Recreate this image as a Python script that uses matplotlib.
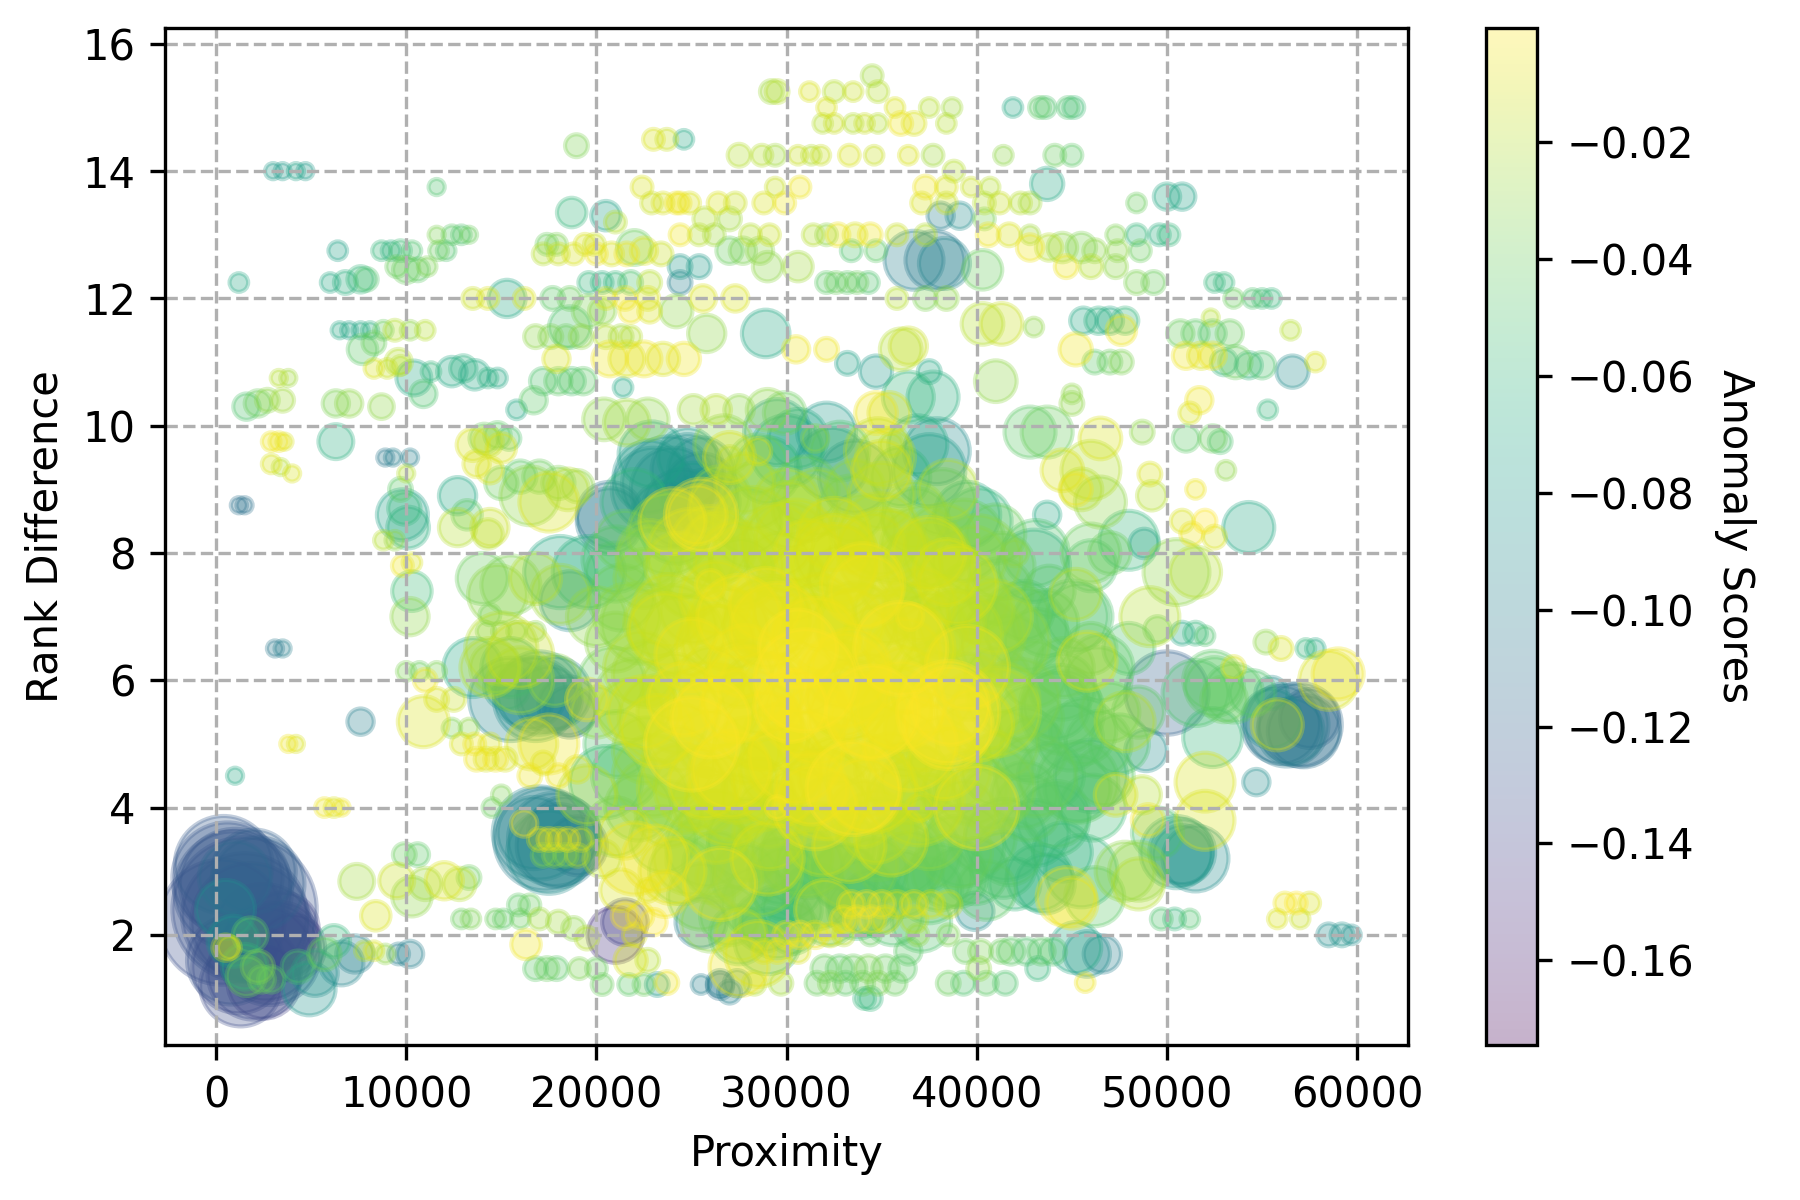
import numpy as np
import matplotlib
matplotlib.use("Agg")
import matplotlib.pyplot as plt

# ------------------------------------------------
# Data (approximate)
# ------------------------------------------------

# big dark cluster near the origin
lowleft_prox = [400, 1500, 900, 300, 2200, 3400, 2800, 1300, 2500, 800,
                4000, 1000, 500, 900, 1500, 4900, 5200, 1800, 1600, 2200,
                4300, 500, 700, 2400, 2900, 6600, 7300, 6200, 7800, 8300,
                8900, 9600, 10200, 5700]
lowleft_rank = [3.1, 2.4, 2.7, 2.2, 2.8, 1.9, 1.7, 1.2, 1.25, 1.6,
                1.8, 2.9, 2.4, 1.9, 1.5, 1.15, 1.4, 2.0, 1.35, 1.5,
                1.5, 1.8, 1.8, 1.3, 1.3, 1.55, 1.7, 1.9, 1.75, 1.75,
                1.7, 1.7, 1.7, 1.7]
lowleft_size = [550, 1200, 800, 900, 500, 350, 600, 380, 300, 450,
                250, 300, 200, 150, 120, 160, 120, 70, 90, 60,
                60, 40, 30, 40, 40, 110, 80, 60, 20, 20,
                20, 25, 40, 60]
lowleft_score = [-0.125, -0.130, -0.128, -0.132, -0.122, -0.138, -0.132, -0.135, -0.140, -0.130,
                 -0.142, -0.115, -0.090, -0.085, -0.070, -0.085, -0.090, -0.045, -0.040, -0.035,
                 -0.050, -0.012, -0.010, -0.040, -0.045, -0.095, -0.100, -0.060, -0.020, -0.010,
                 -0.030, -0.100, -0.100, -0.040]

# scattered points on the left side
left_prox = [1000, 3100, 3500, 3800, 4200, 5700, 6200, 6600, 7600, 1200,
             1500, 3000, 3500, 4200, 4700, 1200, 6400, 6000, 6800, 7600,
             7900, 8700, 9200, 9700, 10300, 9500, 10000, 10600, 11100, 11600,
             11600, 12400, 12900, 13300, 11700, 12100, 6500, 7000, 7600, 8100,
             8800, 9400, 10200, 11000, 7700, 8300, 9600, 8300, 9000, 9700,
             10400, 10900, 11300, 12400, 13000, 13600, 14300, 14800, 3300, 3800,
             1600, 2200, 2700, 3500, 6300, 7000, 8700, 2900, 3300, 3600,
             2900, 3400, 4000, 6300, 8900, 9300, 10200, 10000, 9800, 10100,
             9900, 12700, 13200, 14300, 9800, 10300, 10300, 10200, 9700, 9400,
             13500, 14300, 14800, 15400, 13700, 14400, 15800, 16700]
left_rank = [4.5, 6.5, 6.5, 5.0, 5.0, 4.0, 4.0, 4.0, 5.35, 8.75,
             8.75, 14.0, 14.0, 14.0, 14.0, 12.25, 12.75, 12.25, 12.25, 12.3,
             12.3, 12.75, 12.75, 12.75, 12.75, 12.5, 12.45, 12.45, 12.5, 13.75,
             13.0, 13.0, 13.0, 13.0, 12.75, 12.75, 11.5, 11.5, 11.5, 11.5,
             11.5, 11.5, 11.5, 11.5, 11.2, 11.3, 11.0, 10.9, 10.9, 10.95,
             10.75, 10.5, 10.85, 10.85, 10.9, 10.8, 10.75, 10.75, 10.75, 10.75,
             10.3, 10.35, 10.4, 10.4, 10.35, 10.35, 10.3, 9.75, 9.75, 9.75,
             9.4, 9.35, 9.25, 9.75, 9.5, 9.5, 9.5, 9.25, 8.6, 8.4,
             8.7, 8.9, 8.6, 8.3, 7.8, 7.85, 7.4, 7.0, 9.0, 8.2,
             9.7, 9.75, 9.85, 9.8, 9.4, 9.3, 10.25, 10.4]
left_size = [15, 15, 15, 15, 15, 20, 20, 15, 40, 15,
             15, 15, 15, 15, 15, 20, 20, 20, 30, 40,
             30, 20, 20, 25, 20, 25, 40, 30, 20, 15,
             15, 20, 20, 15, 20, 20, 15, 15, 15, 15,
             20, 25, 20, 20, 50, 30, 40, 20, 20, 20,
             70, 40, 20, 50, 40, 50, 20, 20, 15, 15,
             40, 40, 30, 30, 40, 40, 35, 20, 20, 15,
             20, 15, 15, 70, 15, 15, 15, 15, 150, 100,
             60, 80, 50, 50, 25, 20, 90, 80, 30, 20,
             60, 50, 40, 30, 40, 40, 20, 40]
left_score = [-0.07, -0.105, -0.10, -0.005, -0.01, -0.005, -0.01, -0.005, -0.10, -0.11,
              -0.11, -0.08, -0.08, -0.075, -0.08, -0.07, -0.075, -0.07, -0.065, -0.06,
              -0.05, -0.06, -0.065, -0.055, -0.05, -0.04, -0.04, -0.045, -0.035, -0.05,
              -0.035, -0.045, -0.05, -0.04, -0.04, -0.05, -0.07, -0.075, -0.07, -0.065,
              -0.04, -0.02, -0.03, -0.02, -0.045, -0.04, -0.02, -0.01, -0.015, -0.02,
              -0.07, -0.05, -0.06, -0.07, -0.065, -0.07, -0.065, -0.07, -0.02, -0.025,
              -0.05, -0.04, -0.03, -0.025, -0.035, -0.03, -0.03, -0.005, -0.005, -0.01,
              -0.01, -0.02, -0.01, -0.065, -0.105, -0.10, -0.10, -0.02, -0.075, -0.065,
              -0.06, -0.07, -0.045, -0.02, -0.005, -0.01, -0.055, -0.03, -0.045, -0.03,
              -0.01, -0.02, -0.045, -0.05, -0.01, -0.01, -0.07, -0.045]

# upper band, 13000 - 25000
upleft_prox = [18950, 23000, 23700, 24600, 22400, 22900, 23500, 24200, 18700, 20500,
               21000, 17400, 17900, 19400, 19900, 22000, 17200, 18000, 18800, 20000,
               20800, 21600, 22500, 23400, 19600, 20300, 21000, 21800, 22800, 24400,
               13500, 14300, 15300, 16200, 17700, 18600, 20500, 21500, 22700, 19600,
               20300, 21800, 22800, 24200, 18600, 16800, 17600, 18400, 19200, 20500,
               21300, 21800, 20700, 21600, 22500, 23500, 24600, 17900, 17200, 18000,
               18700, 19300, 21400, 20400, 21600, 22700, 22900, 14100, 15000]
upleft_rank = [14.4, 14.5, 14.5, 14.5, 13.75, 13.5, 13.5, 13.5, 13.35, 13.3,
               13.2, 12.85, 12.85, 12.85, 12.85, 12.8, 12.7, 12.7, 12.7, 12.7,
               12.7, 12.7, 12.75, 12.7, 12.25, 12.25, 12.25, 12.25, 12.25, 12.25,
               12.0, 12.0, 12.0, 12.0, 12.0, 12.0, 12.0, 12.0, 12.0, 11.8,
               11.8, 11.8, 11.8, 11.8, 11.55, 11.4, 11.4, 11.4, 11.4, 11.4,
               11.4, 11.4, 11.05, 11.05, 11.05, 11.05, 11.05, 11.05, 10.7, 10.7,
               10.7, 10.7, 10.6, 10.1, 10.05, 10.1, 9.55, 9.8, 9.65]
upleft_size = [30, 25, 25, 20, 25, 25, 25, 25, 50, 50,
               25, 25, 25, 25, 25, 70, 25, 25, 25, 25,
               30, 30, 40, 30, 25, 25, 25, 30, 30, 30,
               25, 25, 80, 25, 30, 30, 25, 30, 30, 60,
               40, 30, 30, 60, 100, 30, 30, 30, 30, 30,
               30, 25, 70, 70, 70, 60, 60, 40, 40, 40,
               40, 40, 20, 100, 120, 100, 250, 50, 50]
upleft_score = [-0.035, -0.01, -0.015, -0.07, -0.01, -0.015, -0.01, -0.005, -0.06, -0.075,
                -0.02, -0.04, -0.035, -0.01, -0.015, -0.04, -0.02, -0.015, -0.01, -0.005,
                -0.01, -0.005, -0.01, -0.015, -0.06, -0.065, -0.06, -0.05, -0.02, -0.10,
                -0.015, -0.01, -0.07, -0.01, -0.045, -0.04, -0.01, -0.005, -0.01, -0.035,
                -0.03, -0.005, -0.01, -0.03, -0.05, -0.03, -0.035, -0.04, -0.03, -0.02,
                -0.025, -0.02, -0.005, -0.01, -0.005, -0.01, -0.005, -0.01, -0.05, -0.045,
                -0.05, -0.045, -0.07, -0.03, -0.025, -0.03, -0.075, -0.04, -0.01]

# upper band, 24000 - 58000
upright_prox = [29200, 29500, 31200, 32500, 33500, 34500, 34800, 32100, 35700, 37500,
                38700, 41900, 43300, 43600, 44800, 45100, 31900, 32500, 33500, 34100,
                34800, 36000, 36700, 38400, 27500, 28700, 29400, 30600, 31300, 31800,
                33300, 34600, 36400, 37700, 41400, 44100, 45000, 38800, 29400, 30700,
                37300, 38400, 39700, 40700, 43700, 24400, 24900, 26400, 27300, 28800,
                29900, 37100, 38400, 40400, 41200, 42300, 42800, 48400, 50000, 50800,
                25700, 27000, 38100, 39100, 40400, 24400, 25400, 26200, 28100, 29100,
                31400, 32100, 32700, 33600, 34400, 35800, 37300, 40600, 41700, 42800,
                47300, 48400, 49600, 50100, 27000, 27700, 28600, 33400, 34700, 36700,
                37800, 38300, 40300, 42800, 43800, 44500, 45500, 46200, 47400, 48600,
                24400, 25400, 29000, 30600, 44700, 46000, 47300, 32100, 32600, 33200,
                33700, 34300, 48400, 49300, 52500, 25600, 27300, 35800, 37300, 38400,
                25800, 28900, 30500, 32100, 33200, 34700, 36000, 36400, 37500, 40300,
                41300, 41000, 43000, 45200, 45600, 46400, 47000, 47800, 47600, 46200,
                47000, 47600, 45000, 50700, 51500, 52400, 53300, 51000, 51800, 52400,
                51700, 51200, 52300, 25100, 26300, 27500, 29000, 29900, 32100, 34700,
                35400, 36400, 37700, 42800, 43700, 45000, 46500, 48700, 51000, 52400,
                52800, 53000, 53500, 54500, 55000, 55500, 53000, 53600, 54300, 55000,
                56600, 56500, 57800, 55300]
upright_rank = [15.25, 15.25, 15.25, 15.25, 15.25, 15.5, 15.25, 15.0, 15.0, 15.0,
                15.0, 15.0, 15.0, 15.0, 15.0, 15.0, 14.75, 14.75, 14.75, 14.75,
                14.75, 14.75, 14.75, 14.75, 14.25, 14.25, 14.25, 14.25, 14.25, 14.25,
                14.25, 14.25, 14.25, 14.25, 14.25, 14.25, 14.25, 14.0, 13.75, 13.75,
                13.75, 13.75, 13.75, 13.75, 13.8, 13.5, 13.5, 13.5, 13.5, 13.5,
                13.5, 13.5, 13.5, 13.5, 13.5, 13.5, 13.5, 13.5, 13.6, 13.6,
                13.25, 13.25, 13.3, 13.3, 13.25, 13.0, 13.0, 13.0, 13.0, 13.0,
                13.0, 13.0, 13.0, 13.0, 13.0, 13.0, 13.0, 13.0, 13.0, 13.0,
                13.0, 13.0, 13.0, 13.0, 12.75, 12.75, 12.75, 12.75, 12.75, 12.6,
                12.6, 12.55, 12.45, 12.8, 12.8, 12.8, 12.8, 12.75, 12.75, 12.75,
                12.5, 12.5, 12.5, 12.5, 12.5, 12.5, 12.5, 12.25, 12.25, 12.25,
                12.25, 12.25, 12.25, 12.25, 12.25, 12.0, 12.0, 12.0, 12.0, 12.0,
                11.45, 11.45, 11.2, 11.2, 10.98, 10.85, 11.2, 11.25, 10.85, 11.6,
                11.6, 10.7, 11.55, 11.2, 11.65, 11.65, 11.65, 11.65, 11.5, 11.0,
                11.0, 11.0, 10.5, 11.45, 11.45, 11.45, 11.45, 11.1, 11.1, 11.1,
                10.4, 10.2, 11.7, 10.25, 10.25, 10.25, 10.25, 10.2, 9.9, 10.2,
                10.2, 10.45, 10.45, 9.9, 9.9, 10.35, 9.8, 9.9, 9.8, 9.8,
                9.75, 12.25, 12.0, 12.0, 12.0, 12.0, 11.0, 11.0, 10.95, 10.95,
                10.85, 11.5, 11.0, 10.25]
upright_size = [30, 30, 20, 25, 20, 25, 25, 20, 20, 20,
                20, 20, 25, 25, 25, 25, 20, 20, 20, 20,
                20, 30, 30, 20, 30, 25, 25, 20, 20, 20,
                25, 20, 20, 25, 20, 25, 25, 25, 20, 25,
                30, 25, 20, 20, 60, 25, 25, 25, 25, 25,
                25, 25, 25, 25, 25, 25, 25, 20, 40, 40,
                30, 30, 40, 40, 25, 25, 25, 25, 25, 25,
                25, 25, 30, 30, 30, 25, 25, 30, 30, 20,
                20, 25, 25, 25, 40, 40, 40, 25, 25, 200,
                200, 150, 90, 40, 40, 50, 50, 30, 25, 25,
                30, 30, 50, 50, 30, 30, 30, 25, 25, 25,
                25, 25, 30, 30, 20, 40, 40, 25, 30, 30,
                80, 130, 40, 30, 30, 60, 100, 80, 30, 100,
                100, 100, 20, 60, 40, 40, 40, 40, 50, 30,
                30, 30, 20, 40, 40, 40, 40, 40, 40, 40,
                40, 25, 15, 50, 50, 50, 100, 100, 200, 100,
                100, 150, 150, 150, 150, 30, 100, 30, 40, 40,
                30, 20, 20, 20, 20, 20, 40, 60, 40, 40,
                60, 20, 20, 20]
upright_score = [-0.025, -0.02, -0.01, -0.02, -0.015, -0.025, -0.02, -0.01, -0.01, -0.02,
                 -0.025, -0.07, -0.045, -0.05, -0.05, -0.055, -0.02, -0.015, -0.02, -0.015,
                 -0.02, -0.005, -0.01, -0.02, -0.02, -0.02, -0.025, -0.015, -0.02, -0.015,
                 -0.01, -0.015, -0.01, -0.025, -0.03, -0.04, -0.045, -0.02, -0.015, -0.005,
                 -0.005, -0.01, -0.015, -0.02, -0.07, -0.005, -0.01, -0.01, -0.015, -0.01,
                 -0.005, -0.01, -0.015, -0.02, -0.015, -0.02, -0.025, -0.04, -0.07, -0.075,
                 -0.02, -0.025, -0.10, -0.09, -0.035, -0.005, -0.02, -0.025, -0.02, -0.015,
                 -0.02, -0.03, -0.005, -0.01, -0.005, -0.015, -0.02, -0.005, -0.01, -0.025,
                 -0.035, -0.06, -0.065, -0.06, -0.04, -0.035, -0.03, -0.05, -0.045, -0.10,
                 -0.105, -0.095, -0.04, -0.005, -0.02, -0.03, -0.035, -0.03, -0.03, -0.04,
                 -0.08, -0.08, -0.03, -0.025, -0.005, -0.02, -0.03, -0.045, -0.04, -0.045,
                 -0.04, -0.05, -0.035, -0.04, -0.06, -0.01, -0.01, -0.02, -0.035, -0.03,
                 -0.03, -0.07, -0.005, -0.005, -0.075, -0.08, -0.02, -0.015, -0.07, -0.02,
                 -0.015, -0.03, -0.03, -0.005, -0.07, -0.065, -0.07, -0.06, -0.005, -0.045,
                 -0.04, -0.035, -0.03, -0.04, -0.045, -0.05, -0.04, -0.005, -0.01, -0.005,
                 -0.005, -0.01, -0.02, -0.025, -0.02, -0.03, -0.03, -0.04, -0.08, -0.005,
                 -0.01, -0.06, -0.065, -0.045, -0.04, -0.03, -0.01, -0.03, -0.045, -0.04,
                 -0.05, -0.06, -0.04, -0.05, -0.055, -0.06, -0.06, -0.04, -0.06, -0.05,
                 -0.09, -0.02, -0.01, -0.06]

# middle-left: 7000 - 27000
midleft_prox = [16500, 17500, 15500, 14700, 17800, 16000, 18600, 15300, 17300, 18000,
                16700, 19000, 17000, 17500, 18000, 18500, 19200, 17200, 17800, 18400,
                19000, 16200, 16600, 23100, 22700, 7400, 8400, 9900, 10600, 9500,
                10300, 11000, 12000, 12800, 13300, 12900, 13400, 14700, 15100, 16000,
                17000, 15900, 16500, 18000, 18800, 19500, 16800, 17400, 17900, 19100,
                20000, 16300, 21000, 21500, 20300, 21700, 22500, 23200, 25500, 23600,
                12400, 13300, 12900, 13600, 14400, 13700, 14200, 14700, 15200, 11600,
                12500, 10000, 10700, 11600, 11000, 14200, 15000, 15800, 16800, 14400,
                14800, 18100, 13500, 14400, 10900, 12700, 14400, 8800, 16500, 17500,
                18500, 15000, 16000, 17000, 18000, 19000, 20700, 24000, 18600, 18100,
                19600, 21000, 14000, 15500, 16800, 20000, 15500, 17000, 15000, 16000,
                20500, 21000, 20000, 19500, 22000, 21500, 20300, 21500, 22300, 23000,
                22000, 23700, 22700, 21800, 21300, 25500, 26500, 27000, 27500, 15000,
                16500, 17200, 18000, 19000, 19500, 14500, 17500]
midleft_rank = [5.8, 5.7, 6.2, 6.2, 6.0, 6.0, 5.5, 5.9, 3.5, 3.4,
                3.6, 3.4, 3.5, 3.5, 3.5, 3.5, 3.5, 3.25, 3.25, 3.25,
                3.25, 3.75, 5.0, 3.2, 2.7, 2.84, 2.3, 3.26, 3.26, 2.85,
                2.6, 2.8, 2.85, 2.8, 2.9, 2.25, 2.25, 2.25, 2.25, 2.25,
                2.25, 2.47, 2.47, 2.2, 2.1, 1.95, 1.47, 1.47, 1.47, 1.47,
                1.47, 1.85, 2.0, 2.2, 1.22, 1.22, 1.22, 1.22, 1.22, 2.64,
                5.25, 5.25, 5.0, 5.0, 5.0, 4.76, 4.76, 4.76, 4.76, 5.7,
                5.7, 6.14, 6.14, 6.14, 6.0, 6.77, 6.77, 6.77, 6.77, 7.03,
                7.35, 7.35, 6.2, 6.2, 5.35, 8.4, 8.4, 8.2, 8.9, 8.8,
                9.0, 9.1, 9.2, 9.2, 9.1, 9.05, 8.5, 8.5, 7.25, 7.7,
                7.7, 7.7, 7.6, 7.5, 7.6, 7.0, 5.7, 5.8, 6.5, 6.4,
                4.4, 3.7, 5.5, 4.2, 3.2, 3.6, 3.2, 2.3, 2.3, 2.2,
                2.0, 1.25, 1.6, 1.6, 2.7, 2.2, 1.2, 1.1, 1.5, 4.2,
                4.5, 4.7, 4.5, 4.6, 5.7, 4.0, 5.0]
midleft_size = [300, 250, 200, 150, 150, 250, 150, 120, 600, 400,
                300, 200, 30, 30, 30, 30, 30, 30, 30, 30,
                30, 40, 150, 250, 30, 70, 50, 30, 30, 70,
                90, 60, 80, 60, 30, 20, 20, 20, 20, 20,
                25, 25, 25, 30, 30, 30, 30, 30, 30, 25,
                25, 50, 180, 120, 25, 25, 25, 30, 20, 120,
                20, 20, 25, 25, 25, 30, 30, 30, 30, 30,
                30, 20, 20, 20, 30, 20, 20, 20, 20, 25,
                200, 200, 200, 200, 150, 80, 80, 20, 200, 200,
                100, 60, 60, 60, 60, 60, 250, 250, 200, 300,
                300, 200, 150, 200, 150, 200, 400, 400, 300, 250,
                300, 200, 150, 200, 300, 150, 80, 40, 40, 40,
                30, 30, 30, 60, 100, 150, 40, 30, 200, 20,
                30, 30, 30, 40, 100, 20, 200]
midleft_score = [-0.09, -0.095, -0.07, -0.03, -0.03, -0.025, -0.11, -0.08, -0.10, -0.105,
                 -0.095, -0.13, -0.01, -0.005, -0.01, -0.005, -0.01, -0.035, -0.03, -0.035,
                 -0.02, 0.0, -0.01, -0.005, -0.01, -0.025, -0.01, -0.04, -0.045, -0.015,
                 -0.03, -0.025, -0.01, -0.02, -0.04, -0.04, -0.035, -0.04, -0.045, -0.04,
                 -0.025, -0.045, -0.04, -0.025, -0.03, -0.02, -0.045, -0.04, -0.045, -0.035,
                 -0.04, -0.005, -0.15, -0.14, -0.04, -0.045, -0.04, -0.08, -0.10, -0.005,
                 -0.035, -0.03, -0.01, -0.005, -0.01, -0.005, -0.01, -0.005, -0.01, -0.01,
                 -0.015, -0.035, -0.04, -0.035, -0.005, -0.035, -0.03, -0.035, -0.03, -0.04,
                 -0.03, -0.025, -0.07, -0.02, -0.01, -0.02, -0.015, -0.02, -0.03, -0.01,
                 -0.02, -0.04, -0.045, -0.04, -0.035, -0.03, -0.10, -0.005, -0.09, -0.07,
                 -0.065, -0.05, -0.04, -0.035, -0.02, -0.03, -0.095, -0.09, -0.02, -0.015,
                 -0.06, -0.04, -0.03, -0.02, -0.005, -0.01, -0.02, 0.0, -0.005, 0.0,
                 -0.01, -0.005, -0.02, -0.01, -0.01, -0.10, -0.11, -0.10, -0.005, -0.035,
                 -0.005, -0.01, -0.005, -0.01, -0.005, -0.04, -0.005]

# extra stacked circles in the darker clumps
clump_prox = [600, 1800, 2600, 1200, 3500, 2000, 1500, 1000, 2500, 2000,
              17000, 17800, 17500, 18300,
              16800, 17800, 18500,
              56300, 57200,
              23000, 24800, 25800,
              50800]
clump_rank = [2.9, 2.2, 1.7, 1.5, 2.1, 3.0, 2.3, 2.8, 2.0, 1.4,
              3.6, 3.5, 3.3, 3.6,
              5.7, 5.8, 5.6,
              5.3, 5.2,
              9.0, 9.3, 8.8,
              3.3]
clump_size = [700, 800, 500, 500, 300, 400, 900, 700, 600, 500,
              500, 500, 400, 300,
              400, 300, 200,
              400, 300,
              400, 300, 250,
              250]
clump_score = [-0.128, -0.13, -0.135, -0.135, -0.14, -0.122, -0.13, -0.128, -0.132, -0.135,
               -0.095, -0.10, -0.09, -0.10,
               -0.09, -0.095, -0.10,
               -0.105, -0.11,
               -0.09, -0.095, -0.085,
               -0.085]

# dense central mass, one line per band
core_prox = [22800, 24000, 25500, 26500, 27800, 29000, 30000, 31000, 32400, 33600, 34800, 36000, 37500, 38500,
             21500, 22800, 24200, 25300, 26500, 28000, 29500, 31000, 32500, 34000, 35500, 36800, 38200, 39500, 41000,
             21300, 22500, 23800, 25000, 26300, 27600, 28900, 30300, 31600, 32900, 34200, 35600, 37000, 38400, 39800, 41200, 42500, 43800,
             21000, 22300, 23600, 25000, 26400, 27800, 29200, 30600, 32000, 33400, 34800, 36200, 37600, 39000, 40400, 41800, 43200, 44600, 46000,
             21800, 23200, 24600, 26000, 27400, 28800, 30200, 31600, 33000, 34400, 35800, 37200, 38600, 40000, 41400, 42800, 44200, 45600, 47000,
             21500, 22900, 24300, 25700, 27100, 28500, 29900, 31300, 32700, 34100, 35500, 36900, 38300, 39700, 41100, 42500, 43900, 45300, 46700,
             23500, 24900, 26300, 27700, 29100, 30500, 31900, 33300, 34700, 36100, 37500, 38900, 40300, 41700, 43100, 44500,
             25500, 27000, 28500, 30000, 31500, 33000, 34500, 36000, 37500, 39000, 40500, 42000,
             27500, 29000, 30300, 26000, 28500, 27600]
core_rank = [9.2, 9.0, 9.3, 8.9, 9.1, 9.3, 9.6, 9.0, 9.4, 9.0, 9.6, 9.2, 9.3, 9.0,
             8.2, 7.9, 8.4, 8.6, 8.1, 8.5, 8.2, 8.7, 8.3, 8.4, 8.1, 8.5, 8.2, 8.6, 8.3,
             7.3, 7.6, 7.1, 7.5, 7.3, 7.7, 7.2, 7.5, 7.1, 7.6, 7.4, 7.5, 7.2, 7.7, 7.3, 7.4, 7.1, 7.4,
             6.6, 6.2, 6.8, 6.4, 6.6, 6.3, 6.9, 6.5, 6.7, 6.2, 6.6, 6.4, 6.8, 6.3, 6.7, 6.5, 6.6, 6.2, 6.5,
             5.5, 5.2, 5.7, 5.4, 5.6, 5.2, 5.6, 5.3, 5.7, 5.4, 5.5, 5.2, 5.6, 5.3, 5.7, 5.4, 5.6, 5.2, 5.5,
             4.5, 4.2, 4.7, 4.4, 4.6, 4.2, 4.7, 4.3, 4.5, 4.2, 4.6, 4.4, 4.7, 4.3, 4.6, 4.2, 4.5, 4.3, 4.5,
             3.5, 3.2, 3.7, 3.3, 3.6, 3.2, 3.5, 3.4, 3.7, 3.2, 3.6, 3.3, 3.5, 3.3, 3.6, 3.3,
             2.6, 2.9, 2.5, 2.8, 2.6, 2.9, 2.5, 2.8, 2.7, 2.9, 2.7, 2.8,
             2.0, 1.9, 2.1, 2.2, 1.7, 2.0]
core_size = [300, 400, 250, 200, 200, 250, 300, 250, 300, 200, 250, 200, 300, 200,
             200, 250, 300, 200, 300, 250, 300, 250, 300, 250, 300, 250, 300, 250, 200,
             250, 200, 300, 250, 300, 250, 300, 300, 300, 250, 300, 250, 300, 250, 300, 250, 200, 150,
             200, 300, 300, 300, 300, 300, 300, 350, 300, 350, 300, 300, 300, 300, 300, 250, 250, 200, 150,
             250, 300, 300, 350, 300, 350, 300, 350, 300, 350, 300, 350, 350, 300, 300, 250, 250, 250, 200,
             250, 300, 300, 300, 350, 300, 350, 300, 350, 300, 300, 300, 300, 300, 300, 250, 250, 250, 200,
             250, 300, 300, 300, 300, 300, 300, 300, 300, 300, 300, 300, 250, 250, 250, 200,
             250, 250, 300, 300, 250, 250, 250, 250, 250, 200, 200, 150,
             200, 250, 150, 200, 250, 150]
core_score = [-0.085, -0.095, -0.09, -0.03, -0.02, -0.06, -0.07, -0.04, -0.085, -0.03, -0.02, -0.06, -0.08, -0.02,
              -0.04, -0.03, -0.06, -0.005, -0.02, -0.045, -0.015, -0.03, -0.01, -0.025, -0.02, -0.05, -0.03, -0.07, -0.04,
              -0.04, -0.03, -0.015, -0.02, -0.01, -0.03, -0.005, -0.015, -0.01, -0.02, -0.005, -0.02, -0.015, -0.01, -0.03, -0.04, -0.05, -0.045,
              -0.03, -0.02, -0.01, -0.005, -0.015, -0.005, -0.01, 0.0, -0.01, -0.005, -0.015, -0.01, -0.02, -0.03, -0.035, -0.04, -0.045, -0.04, -0.04,
              -0.02, -0.01, -0.005, 0.0, -0.005, -0.01, 0.0, -0.005, -0.01, -0.005, -0.01, -0.015, 0.0, -0.01, -0.025, -0.04, -0.05, -0.045, -0.04,
              -0.05, -0.03, -0.02, -0.01, -0.005, -0.02, -0.01, -0.005, -0.015, -0.005, -0.02, -0.03, -0.01, -0.035, -0.04, -0.045, -0.055, -0.05, -0.045,
              -0.04, -0.03, -0.02, -0.04, -0.02, -0.05, -0.02, -0.01, -0.02, -0.05, -0.03, -0.04, -0.045, -0.05, -0.06, -0.065,
              -0.04, -0.03, -0.055, -0.06, -0.055, -0.06, -0.065, -0.055, -0.05, -0.05, -0.045, -0.06,
              -0.05, -0.06, -0.05, -0.03, -0.01, -0.02]

# second layer of the central mass
core2_prox = [24800, 26700, 28500, 30600, 32800, 35200, 36900,
              22000, 23600, 25100, 26600, 28300, 30100, 31600, 33400, 35000, 36700, 38200, 40100,
              21000, 22800, 24300, 26200, 27700, 29600, 31100, 33000, 34500, 36400, 37900, 39800, 41300, 43100,
              21600, 23200, 25100, 26600, 28500, 30000, 31900, 33400, 35300, 36800, 38700, 40200, 42100, 43600, 45400,
              20800, 22600, 24100, 26000, 27500, 29400, 30900, 32800, 34300, 36200, 37700, 39600, 41100, 43000, 44500, 46400,
              21100, 22600, 24500, 26000, 27900, 29400, 31300, 32800, 34700, 36200, 38100, 39600, 41500, 43000, 44900, 46400,
              22200, 23800, 25700, 27200, 29100, 30600, 32500, 34000, 35900, 37400, 39300, 40800, 42700, 44200, 46100,
              24500, 26300, 27800, 29700, 31200, 33100, 34600, 36500, 38000, 39900, 41400, 43300,
              27000, 28800, 30300, 32200, 33700, 35600, 37100]
core2_rank = [9.5, 9.7, 9.4, 9.8, 9.6, 9.5, 9.7,
              8.8, 8.6, 8.9, 8.7, 8.9, 8.6, 8.8, 8.7, 8.9, 8.6, 8.8, 8.5,
              7.9, 8.0, 7.8, 8.1, 7.9, 7.8, 8.0, 7.9, 8.1, 7.8, 8.0, 7.9, 7.8, 8.0,
              7.0, 6.9, 7.1, 7.0, 6.9, 7.1, 7.0, 6.9, 7.1, 7.0, 6.9, 7.1, 7.0, 6.9, 7.0,
              6.0, 6.1, 5.9, 6.0, 6.1, 5.9, 6.0, 6.1, 5.9, 6.0, 6.1, 5.9, 6.0, 6.1, 5.9, 6.0,
              5.0, 4.9, 5.1, 5.0, 4.9, 5.1, 5.0, 4.9, 5.1, 5.0, 4.9, 5.1, 5.0, 4.9, 5.1, 5.0,
              4.0, 3.9, 4.1, 4.0, 3.9, 4.1, 4.0, 3.9, 4.1, 4.0, 3.9, 4.1, 4.0, 3.9, 4.0,
              3.0, 3.1, 2.9, 3.0, 3.1, 2.9, 3.0, 3.1, 2.9, 3.0, 3.1, 2.9,
              2.3, 2.2, 2.4, 2.3, 2.4, 2.3, 2.2]
core2_size = [200, 200, 200, 200, 200, 200, 200,
              250, 250, 250, 250, 250, 250, 250, 250, 250, 250, 250, 250,
              250, 250, 250, 250, 250, 250, 250, 250, 250, 250, 250, 250, 250, 250,
              250, 250, 250, 250, 250, 250, 250, 250, 250, 250, 250, 250, 250, 250, 250,
              250, 250, 250, 250, 250, 250, 250, 250, 250, 250, 250, 250, 250, 250, 250, 250,
              250, 250, 250, 250, 250, 250, 250, 250, 250, 250, 250, 250, 250, 250, 250, 250,
              250, 250, 250, 250, 250, 250, 250, 250, 250, 250, 250, 250, 250, 250, 250,
              250, 250, 250, 250, 250, 250, 250, 250, 250, 250, 250, 250,
              200, 200, 200, 200, 200, 200, 200]
core2_score = [-0.08, -0.03, -0.04, -0.07, -0.05, -0.02, -0.07,
               -0.06, -0.09, -0.08, -0.02, -0.03, -0.02, -0.025, -0.04, -0.02, -0.03, -0.05, -0.06,
               -0.05, -0.03, -0.02, -0.02, -0.015, -0.02, -0.01, -0.02, -0.015, -0.02, -0.025, -0.03, -0.04, -0.05,
               -0.03, -0.02, -0.02, -0.01, -0.02, -0.015, -0.02, -0.01, -0.02, -0.015, -0.02, -0.025, -0.04, -0.045, -0.05,
               -0.04, -0.025, -0.02, -0.015, -0.02, -0.01, -0.02, -0.015, -0.02, -0.01, -0.02, -0.025, -0.035, -0.04, -0.045, -0.045,
               -0.05, -0.03, -0.02, -0.02, -0.015, -0.02, -0.01, -0.02, -0.015, -0.02, -0.02, -0.03, -0.035, -0.045, -0.05, -0.045,
               -0.04, -0.03, -0.025, -0.02, -0.03, -0.02, -0.025, -0.02, -0.03, -0.025, -0.03, -0.035, -0.045, -0.05, -0.055,
               -0.04, -0.045, -0.05, -0.055, -0.06, -0.05, -0.06, -0.05, -0.045, -0.05, -0.055, -0.06,
               -0.045, -0.055, -0.06, -0.05, -0.06, -0.05, -0.05]

# third layer, centre only
core3_prox = [23800, 26000, 28200, 30500, 32600, 34900, 37100, 39300,
              22400, 24600, 26900, 29100, 31400, 33600, 35900, 38100, 40400, 42600,
              22000, 24300, 26500, 28700, 31000, 33200, 35500, 37700, 40000, 42200, 44400,
              23000, 25200, 27400, 29700, 31900, 34200, 36400, 38600, 40900, 43100, 45300,
              25800, 28000, 30300, 32500, 34800, 37000, 39300, 41500]
core3_rank = [8.3, 8.1, 8.4, 8.2, 8.0, 8.3, 8.1, 8.2,
              6.9, 6.7, 6.8, 7.0, 6.7, 6.9, 6.8, 7.0, 6.7, 6.8,
              5.7, 5.5, 5.6, 5.8, 5.5, 5.7, 5.6, 5.8, 5.5, 5.7, 5.6,
              4.5, 4.3, 4.4, 4.6, 4.3, 4.5, 4.4, 4.6, 4.3, 4.5, 4.4,
              3.4, 3.5, 3.3, 3.4, 3.5, 3.3, 3.4, 3.5]
core3_size = [380, 380, 380, 380, 380, 380, 380, 380,
              380, 380, 380, 380, 380, 380, 380, 380, 380, 380,
              380, 380, 380, 380, 380, 380, 380, 380, 380, 380, 380,
              380, 380, 380, 380, 380, 380, 380, 380, 380, 380, 380,
              380, 380, 380, 380, 380, 380, 380, 380]
core3_score = [-0.03, -0.02, -0.02, -0.015, -0.02, -0.02, -0.03, -0.04,
               -0.03, -0.02, -0.015, -0.02, -0.01, -0.02, -0.015, -0.02, -0.03, -0.045,
               -0.03, -0.02, -0.01, -0.02, -0.015, -0.02, -0.01, -0.02, -0.02, -0.035, -0.045,
               -0.03, -0.02, -0.015, -0.02, -0.02, -0.015, -0.02, -0.025, -0.035, -0.04, -0.045,
               -0.04, -0.05, -0.04, -0.05, -0.04, -0.05, -0.05, -0.06]

# fourth layer, the saturated middle
core4_prox = [25000, 27500, 30000, 32500, 35000, 37500, 40000,
              24000, 26500, 29000, 31500, 34000, 36500, 39000, 41500,
              23500, 26000, 28500, 31000, 33500, 36000, 38500, 41000,
              24500, 27000, 29500, 32000, 34500, 37000, 39500,
              26000, 28500, 31000, 33500, 36000]
core4_rank = [8.0, 7.8, 8.1, 7.9, 8.0, 7.8, 7.9,
              6.8, 6.5, 6.9, 6.6, 6.8, 6.5, 6.7, 6.6,
              5.4, 5.6, 5.3, 5.5, 5.4, 5.6, 5.3, 5.5,
              4.3, 4.1, 4.4, 4.2, 4.3, 4.1, 4.2,
              3.2, 3.0, 3.3, 3.1, 3.2]
core4_size = [450, 450, 450, 450, 450, 450, 450,
              450, 450, 450, 450, 450, 450, 450, 450,
              450, 450, 450, 450, 450, 450, 450, 450,
              450, 450, 450, 450, 450, 450, 450,
              450, 450, 450, 450, 450]
core4_score = [-0.02, -0.015, -0.02, -0.01, -0.015, -0.02, -0.03,
               -0.02, -0.01, -0.015, -0.005, -0.015, -0.01, -0.02, -0.03,
               -0.02, -0.01, -0.015, -0.005, -0.01, -0.005, 0.0, -0.02,
               -0.02, -0.015, -0.01, -0.015, -0.01, -0.02, -0.03,
               -0.035, -0.03, -0.04, -0.035, -0.04]

# bright yellow spots inside the mass
hot_prox = [25000, 25500, 31000, 30500, 33500, 38500, 39500, 27500, 34000, 29000,
            36500, 28000, 33000, 35500, 24000, 37500, 41000, 22500, 26500, 32000,
            30000, 27000, 35000, 40000, 32500, 29500, 36000, 31500, 27000, 34500,
            39000]
hot_rank = [5.0, 8.6, 6.0, 4.8, 4.3, 5.5, 6.2, 7.0, 7.5, 3.2,
            5.0, 5.8, 6.0, 3.5, 3.0, 8.0, 7.0, 5.5, 2.8, 2.4,
            8.8, 9.5, 9.3, 4.0, 7.8, 6.8, 6.5, 4.0, 4.5, 5.5,
            7.5]
hot_size = [500, 300, 600, 500, 500, 600, 400, 400, 400, 300,
            500, 500, 500, 300, 250, 300, 300, 300, 300, 200,
            250, 150, 200, 400, 400, 500, 500, 400, 400, 500,
            350]
hot_score = [0.0, 0.0, 0.0, -0.005, 0.0, 0.0, -0.005, -0.005, -0.005, -0.01,
             -0.005, -0.005, -0.005, -0.01, -0.01, -0.01, -0.02, -0.01, -0.005, -0.01,
             -0.02, -0.01, -0.01, -0.005, -0.01, -0.005, 0.0, -0.005, -0.01, 0.0,
             -0.01]

# teal rim of the mass
fringe_prox = [23800, 25500, 33600, 37900, 20700, 29500, 44500, 46000, 45500, 32000,
               34000, 38500, 43000, 45000, 46500, 47500, 44000, 46000, 29500, 24500,
               42500]
fringe_rank = [9.1, 9.0, 9.2, 9.6, 8.6, 9.9, 5.5, 4.5, 3.0, 2.8,
               2.6, 3.0, 7.8, 7.0, 6.2, 5.0, 3.8, 7.8, 2.2, 8.7,
               5.0]
fringe_size = [500, 300, 300, 250, 250, 250, 400, 300, 300, 400,
               300, 300, 300, 300, 250, 200, 300, 150, 300, 350,
               300]
fringe_score = [-0.095, -0.10, -0.095, -0.09, -0.11, -0.08, -0.045, -0.08, -0.06, -0.05,
                -0.055, -0.045, -0.07, -0.05, -0.045, -0.05, -0.055, -0.05, -0.055, -0.10,
                -0.05]

# small rings visible inside the mass
inner_prox = [27000, 28500, 31500, 35500, 26000, 33500, 36500, 30000, 41000, 37000, 29500, 42000]
inner_rank = [9.5, 9.6, 9.8, 9.7, 7.5, 7.9, 7.0, 5.5, 5.0, 4.0, 4.0, 8.0]
inner_size = [30, 40, 40, 30, 50, 40, 40, 50, 40, 40, 30, 40]
inner_score = [-0.02, -0.01, -0.03, -0.02, -0.005, -0.01, -0.005, -0.005, -0.02, -0.01, 0.0, -0.03]

# right side, 39000 - 60000
right_prox = [56000, 57000, 56500, 55500, 57500, 55800, 58500, 59000, 50000, 51500,
              52500, 53500, 54500, 53000, 52400, 50500, 51500, 49500, 54700, 56200,
              56800, 57500, 55800, 57000, 58500, 59200, 59700, 49700, 50400, 51200,
              45200, 45800, 46600, 45700, 47800, 48500, 48000, 48800, 50500, 51500,
              54300, 52000, 52500, 51500, 53100, 50800, 51300, 46000, 46500, 45500,
              44500, 45200, 43700, 49100, 49200, 49100, 50800, 51500, 52400, 44700,
              52000, 48900, 55200, 56000, 57300, 57800, 52000, 53500, 49500, 55500,
              52000, 50800, 48500, 45000, 46200, 43600, 39900, 45200, 45800, 47800,
              47300, 48500, 48000, 47000, 46000, 48700, 49000]
right_rank = [5.3, 5.3, 5.2, 5.4, 5.4, 5.3, 6.0, 6.1, 5.8, 5.8,
              5.9, 5.8, 5.8, 5.7, 5.1, 3.3, 3.2, 3.6, 4.4, 2.5,
              2.5, 2.5, 2.25, 2.25, 2.0, 2.0, 2.0, 2.25, 2.25, 2.25,
              1.8, 1.7, 1.7, 1.25, 3.0, 2.8, 8.2, 8.15, 7.7, 7.7,
              8.4, 8.5, 8.25, 9.0, 9.3, 8.5, 8.3, 9.3, 8.8, 9.0,
              9.3, 9.0, 8.6, 9.24, 8.9, 7.0, 6.74, 6.74, 6.0, 2.6,
              4.4, 4.9, 6.6, 6.5, 6.5, 6.5, 6.7, 6.2, 6.8, 5.8,
              3.8, 3.26, 3.0, 2.5, 2.6, 2.8, 2.37, 7.35, 6.3, 5.35,
              4.2, 5.5, 6.5, 8.0, 8.0, 4.2, 3.8]
right_size = [350, 400, 250, 200, 200, 150, 200, 150, 400, 250,
              200, 200, 120, 120, 200, 300, 250, 150, 40, 25,
              25, 25, 20, 20, 30, 30, 20, 25, 25, 20,
              150, 120, 80, 20, 200, 150, 200, 50, 250, 150,
              150, 30, 30, 20, 20, 30, 30, 200, 150, 100,
              100, 60, 40, 30, 50, 200, 30, 30, 200, 200,
              200, 100, 30, 30, 20, 20, 20, 30, 40, 60,
              200, 200, 200, 150, 200, 200, 80, 150, 200, 200,
              100, 150, 150, 100, 200, 80, 60]
right_score = [-0.11, -0.115, -0.10, -0.09, -0.12, -0.01, -0.01, -0.005, -0.12, -0.05,
               -0.045, -0.045, -0.05, -0.04, -0.06, -0.08, -0.09, -0.05, -0.09, -0.005,
               0.0, -0.01, -0.01, -0.015, -0.09, -0.085, -0.09, -0.05, -0.06, -0.05,
               -0.07, -0.09, -0.10, -0.005, -0.03, -0.02, -0.06, -0.08, -0.03, -0.02,
               -0.07, 0.0, -0.01, -0.005, -0.03, -0.01, -0.005, -0.02, -0.03, -0.02,
               -0.01, -0.005, -0.07, -0.01, -0.02, -0.02, -0.07, -0.06, -0.045, -0.005,
               -0.01, -0.09, -0.03, -0.01, -0.06, -0.07, -0.05, -0.01, -0.04, -0.09,
               -0.01, -0.09, -0.03, -0.005, -0.045, -0.07, -0.09, -0.02, -0.01, -0.02,
               -0.01, -0.045, -0.05, -0.04, -0.04, -0.02, -0.005]

# thin rows along the bottom
bottom_prox = [30000, 30700, 31500, 32300, 33000, 34400, 36900, 38500,
               33000, 33700, 34500, 35200, 36700,
               33400, 34200, 35000, 35800, 36700, 37600, 38500,
               28800, 29500, 30600, 36400, 39400, 40200, 41300, 41800, 42600, 43400, 44000,
               32000, 32800, 33500, 34300, 35200, 36100, 40100, 43200,
               26500, 27400, 28300, 29700, 31600, 32300, 33100, 34000, 34800, 35700, 38500, 39300, 40500, 41500,
               34100, 34400]
bottom_rank = [2.0, 2.0, 2.0, 2.0, 2.0, 2.0, 2.0, 2.0,
               2.24, 2.24, 2.24, 2.24, 2.24,
               2.48, 2.48, 2.48, 2.48, 2.48, 2.48, 2.48,
               1.74, 1.74, 1.74, 1.74, 1.74, 1.74, 1.74, 1.74, 1.74, 1.74, 1.74,
               1.47, 1.47, 1.47, 1.47, 1.47, 1.47, 1.47, 1.47,
               1.24, 1.24, 1.24, 1.24, 1.24, 1.24, 1.24, 1.24, 1.24, 1.24, 1.24, 1.24, 1.24, 1.24,
               1.0, 1.0]
bottom_size = [40, 40, 40, 30, 25, 25, 25, 25,
               40, 40, 40, 40, 40,
               40, 40, 40, 40, 40, 40, 40,
               30, 30, 30, 40, 30, 30, 30, 40, 40, 40, 40,
               40, 40, 40, 40, 40, 40, 30, 30,
               40, 40, 30, 30, 30, 30, 30, 30, 30, 30, 30, 30, 30, 30,
               25, 30]
bottom_score = [-0.005, 0.0, -0.005, -0.01, -0.02, -0.04, -0.03, -0.035,
                -0.005, 0.0, -0.005, -0.01, -0.02,
                -0.005, 0.0, -0.005, -0.01, -0.005, -0.01, -0.015,
                -0.01, -0.005, -0.01, -0.045, -0.04, -0.035, -0.04, -0.045, -0.05, -0.045, -0.05,
                -0.04, -0.045, -0.04, -0.035, -0.04, -0.045, -0.03, -0.06,
                -0.10, -0.095, -0.02, -0.025, -0.04, -0.035, -0.045, -0.04, -0.035, -0.04, -0.04, -0.05, -0.045, -0.05,
                -0.06, -0.06]


# ------------------------------------------------
# Put the groups together
# ------------------------------------------------
groups = [
    ("lowleft", lowleft_prox, lowleft_rank, lowleft_size, lowleft_score),
    ("left", left_prox, left_rank, left_size, left_score),
    ("upleft", upleft_prox, upleft_rank, upleft_size, upleft_score),
    ("upright", upright_prox, upright_rank, upright_size, upright_score),
    ("midleft", midleft_prox, midleft_rank, midleft_size, midleft_score),
    ("clump", clump_prox, clump_rank, clump_size, clump_score),
    ("core", core_prox, core_rank, core_size, core_score),
    ("core2", core2_prox, core2_rank, core2_size, core2_score),
    ("core3", core3_prox, core3_rank, core3_size, core3_score),
    ("core4", core4_prox, core4_rank, core4_size, core4_score),
    ("hot", hot_prox, hot_rank, hot_size, hot_score),
    ("fringe", fringe_prox, fringe_rank, fringe_size, fringe_score),
    ("inner", inner_prox, inner_rank, inner_size, inner_score),
    ("right", right_prox, right_rank, right_size, right_score),
    ("bottom", bottom_prox, bottom_rank, bottom_size, bottom_score),
]

prox, rank, size, score = [], [], [], []
for name, p, r, s, c in groups:
    if not (len(p) == len(r) == len(s) == len(c)):
        raise ValueError(f"{name}: {len(p)} {len(r)} {len(s)} {len(c)}")
    prox += p
    rank += r
    size += s
    score += c

prox = np.array(prox, dtype=float)
rank = np.array(rank, dtype=float)
size = np.array(size, dtype=float)
score = np.array(score, dtype=float)

# higher scores end up on top
order = np.argsort(score, kind="stable")

# ------------------------------------------------
# Plot
# ------------------------------------------------
fig = plt.figure(figsize=(6, 4), dpi=300)
ax = fig.add_axes([0.0917, 0.1292, 0.6906, 0.8475])
cax = fig.add_axes([0.8256, 0.1292, 0.0283, 0.8475])

sc = ax.scatter(prox[order], rank[order], s=size[order], c=score[order],
                cmap="viridis", vmin=-0.1745, vmax=-0.0004, alpha=0.3)

ax.set_xlim(-2680, 62680)
ax.set_ylim(0.27, 16.25)
ax.set_xlabel("Proximity")
ax.set_ylabel("Rank Difference")
ax.grid(True, linestyle="--")

cb = fig.colorbar(sc, cax=cax)
cb.set_label("Anomaly Scores", rotation=270, labelpad=15)

fig.savefig("out.png", dpi=300)
